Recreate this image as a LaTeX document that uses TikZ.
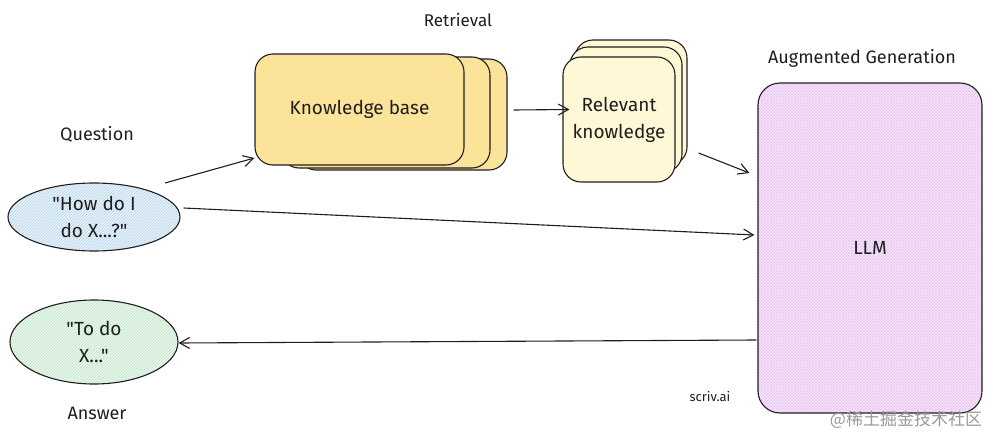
\documentclass[tikz,border=0pt]{standalone}
\usepackage{fontspec}
\setmainfont{Fira Sans}[Ligatures=TeXOff]
\newfontfamily\cjk{Noto Sans CJK SC}
\usetikzlibrary{arrows.meta,patterns,calc,shapes.geometric}
\definecolor{kbfill}{HTML}{FBE49A}
\definecolor{rkfill}{HTML}{FFF8D6}
\definecolor{qfill}{HTML}{E8F3FA}
\definecolor{qhatch}{HTML}{B4D3E8}
\definecolor{afill}{HTML}{EAF7ED}
\definecolor{ahatch}{HTML}{BCE3C4}
\definecolor{llmfill}{HTML}{F8EDFB}
\definecolor{llmhatch}{HTML}{EBC6F4}
\definecolor{inkc}{HTML}{1E1E1E}
\begin{document}
\begin{tikzpicture}[x=1pt,y=-1pt,
  txt/.style={font=\fontsize{19}{27}\selectfont, text=inkc},
  lbl/.style={font=\fontsize{18}{21}\selectfont, text=inkc},
  kbbox/.style={draw=inkc, line width=1.1pt, fill=kbfill, rounded corners=18pt,
    minimum width=209pt, minimum height=111pt, txt},
  rkbox/.style={draw=inkc, line width=1.1pt, fill=rkfill, rounded corners=18pt,
    minimum width=112pt, minimum height=125pt, txt, align=center},
  bubble/.style={ellipse, draw=inkc, line width=1.1pt, txt, align=center},
  arr/.style={draw=inkc, line width=1.1pt, -{Straight Barb[length=10pt,width=11pt,line width=1.1pt]}},
]
\useasboundingbox (0,0) rectangle (993,436);
% Knowledge base stack
\node[kbbox] (kb3) at (402.5,114.5) {};
\node[kbbox] (kb2) at (385.5,112.5) {};
\node[kbbox] (kb) at (359.5,109.5) {Knowledge base};
% Relevant knowledge stack
\node[rkbox] (rk3) at (631,102.5) {};
\node[rkbox] (rk2) at (626,109.5) {};
\node[rkbox] (rk) at (619,119.5) {Relevant\\knowledge};
% LLM
\node[draw=inkc, line width=1.1pt, rounded corners=22pt,
  preaction={fill=llmfill}, pattern=crosshatch, pattern color=llmhatch,
  minimum width=224pt, minimum height=330pt] (llm) at (870,248) {};
\node[txt] (llmt) at (llm.center) {LLM};
% Question & answer
\node[bubble, preaction={fill=qfill}, pattern=north east lines, pattern color=qhatch,
  minimum width=172pt, minimum height=68pt] (q) at (94,217) {};
\node[txt, align=center] (qt) at (q.center) {"How do I\\do X...?"};
\node[bubble, preaction={fill=afill}, pattern=north east lines, pattern color=ahatch,
  minimum width=168pt, minimum height=84pt] (a) at (94,342) {};
\node[txt, align=center] (at) at (a.center) {"To do\\X..."};
% Labels
\node[font=\fontsize{17}{20}\selectfont, text=inkc] (lret) at (458,20) {Retrieval};
\node[lbl] (laug) at (862,58) {Augmented Generation};
\node[lbl] (lq) at (97,134) {Question};
\node[lbl] (la) at (97,413) {Answer};
\node[font=\fontsize{13}{15}\selectfont, text=inkc] (lscriv) at (710,397) {scriv.ai};
\node[font=\cjk\fontsize{17}{19}\selectfont, text=black!40] (wm) at (906,420) {@稀土掘金技术社区};
% Arrows
\draw[arr] ($(q.center)+(71,-34)$) -- ($(kb.west)+(0,48.5)$);
\draw[arr] ($(kb3.east)+(6,-4.5)$) -- ($(rk.west)+(7,-10)$);
\draw[arr] ($(rk3.east)+(11,50.5)$) -- ($(llm.west)+(-8,-75)$);
\draw[arr] ($(q.east)+(3,-9)$) -- ($(llm.west)+(-3,-13)$);
\draw[arr] ($(llm.west)+(-1,92)$) -- ($(a.east)+(0,1)$);
\end{tikzpicture}
\end{document}
